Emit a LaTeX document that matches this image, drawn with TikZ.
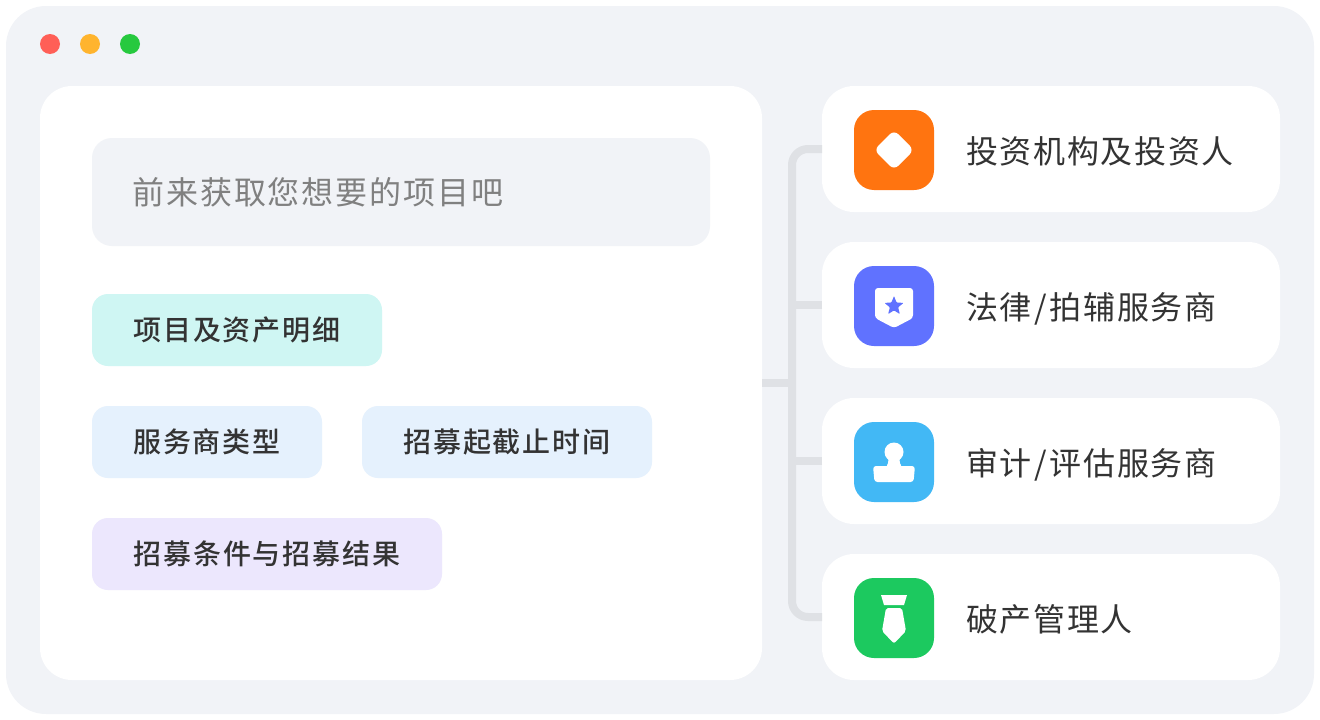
\documentclass[tikz,border=0pt]{standalone}
\usepackage{fontspec}
\usetikzlibrary{shapes.geometric}
\newfontfamily\cjkreg[LetterSpace=5.2]{Noto Sans CJK SC}
\newfontfamily\cjksearch[LetterSpace=6.1]{Noto Sans CJK SC}
\newfontfamily\cjkmed[LetterSpace=7]{Noto Sans CJK SC Medium}
\definecolor{shell}{HTML}{F1F3F7}
\definecolor{wire}{HTML}{DFE1E5}
\definecolor{ink}{HTML}{333333}
\definecolor{mute}{HTML}{808080}
\definecolor{teal}{HTML}{CFF6F3}
\definecolor{sky}{HTML}{E5F1FD}
\definecolor{lilac}{HTML}{ECE7FD}
\definecolor{orangei}{HTML}{FF7410}
\definecolor{bluei}{HTML}{6072FF}
\definecolor{skyi}{HTML}{42B8F5}
\definecolor{greeni}{HTML}{1CC95F}
\tikzset{
  box/.style={inner sep=0pt,outer sep=0pt,rounded corners=#1},
  tagbox/.style={box=16pt,minimum height=72pt,text=ink,font=\cjkmed\fontsize{28}{34}\selectfont},
  cardbox/.style={box=32pt,fill=white,minimum width=458pt,minimum height=126pt},
  iconbox/.style={box=20pt,minimum width=80pt,minimum height=80pt},
  cardtext/.style={inner sep=0pt,anchor=base west,text=ink,font=\cjkreg\fontsize{32}{38}\selectfont},
  dot/.style={circle,inner sep=0pt,minimum size=20pt},
  wireline/.style={draw=wire,line width=8pt},
}
\begin{document}
\begin{tikzpicture}[x=1pt,y=-1pt]
\useasboundingbox (0,0) rectangle (1320,720);
\node[box=40pt,fill=shell,minimum width=1308pt,minimum height=708pt] (shell) at (660,360) {};
\node[dot,fill={rgb,255:red,255;green,95;blue,87}] (d1) at (50,44) {};
\node[dot,fill={rgb,255:red,255;green,180;blue,46}] (d2) at (90,44) {};
\node[dot,fill={rgb,255:red,39;green,201;blue,63}] (d3) at (130,44) {};
\node[box=32pt,fill=white,minimum width=722pt,minimum height=594pt] (panel) at (401,383) {};
\node[box=20pt,fill=shell,minimum width=618pt,minimum height=108pt] (search) at (401,192) {};
\node[inner sep=0pt,anchor=west,text=mute,font=\cjksearch\fontsize{32}{38}\selectfont] (searchtext) at (132,192) {前来获取您想要的项目吧};
\node[tagbox,fill=teal,minimum width=290pt] (t1) at (237,330) {\raisebox{-0.5pt}{项目及资产明细}};
\node[tagbox,fill=sky,minimum width=230pt] (t2) at (207,442) {\raisebox{-0.5pt}{服务商类型}};
\node[tagbox,fill=sky,minimum width=290pt] (t3) at (507,442) {\raisebox{-0.5pt}{招募起截止时间}};
\node[tagbox,fill=lilac,minimum width=350pt] (t4) at (267,554) {\raisebox{-0.5pt}{招募条件与招募结果}};
\node[cardbox] (c1) at (1051,149) {};
\node[cardbox] (c2) at (1051,305) {};
\node[cardbox] (c3) at (1051,461) {};
\node[cardbox] (c4) at (1051,617) {};
\coordinate (trunktop) at (792,149);
\coordinate (trunkbot) at (792,617);
\coordinate (trunkmid) at (792,383);
\draw[wireline,rounded corners=16pt] (c1.west) -- (trunktop) -- (trunkbot) -- (c4.west);
\draw[wireline] (c2.west) -- (792,305);
\draw[wireline] (c3.west) -- (792,461);
\draw[wireline] (panel.east) -- (trunkmid);
\node[iconbox,fill=orangei] (i1) at (894,150) {};
\node[iconbox,fill=bluei] (i2) at (894,306) {};
\node[iconbox,fill=skyi] (i3) at (894,462) {};
\node[iconbox,fill=greeni] (i4) at (894,618) {};
\node[cardtext] (l1) at (966,163) {投资机构及投资人};
\node[cardtext] (l2) at (966,319) {法律\kern2.5pt/\kern3pt 拍辅服务商};
\node[cardtext] (l3) at (966,475) {审计\kern2.5pt/\kern3pt 评估服务商};
\node[cardtext] (l4) at (966,631) {破产管理人};
% diamond
\fill[white,rounded corners=6pt] (894,130) -- (914,150) -- (894,170) -- (874,150) -- cycle;
% shield
\fill[white,rounded corners=3pt] (875,288) -- (913,288) -- (913,318) -- (894,328) -- (875,318) -- cycle;
\node[star,star points=5,star point ratio=2.3,fill=bluei,inner sep=0pt,minimum size=20pt,rounded corners=0.8pt] (starmark) at (894,306) {};
% stamp
\fill[white] (894,452) circle (9.5pt);
\fill[white,rounded corners=2pt] (887,455) -- (901,455) -- (899,462) -- (902,466.5) -- (886,466.5) -- (889,462) -- cycle;
\fill[white,rounded corners=3pt] (873,466) -- (915,466) -- (913.5,482) -- (874.5,482) -- cycle;
% tie
\fill[white] (881,595) -- (907,595) -- (904,605) -- (884,605) -- cycle;
\fill[white,rounded corners=2pt] (886,608) -- (902,608) -- (906,631) -- (894,643.5) -- (882,631) -- cycle;
\end{tikzpicture}
\end{document}
